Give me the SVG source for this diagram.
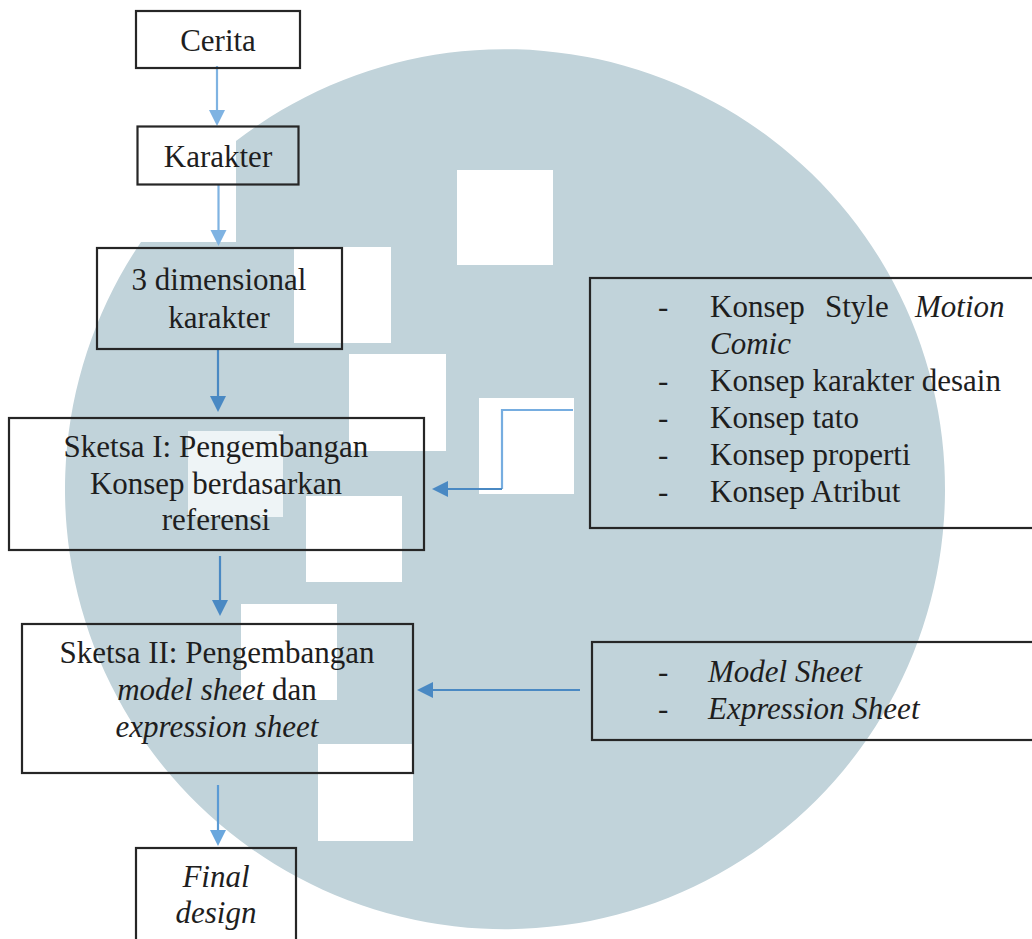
<svg xmlns="http://www.w3.org/2000/svg" width="1032" height="939" viewBox="0 0 1032 939">
<defs>
<style>
.box{fill:none;stroke:#262626;stroke-width:2.2}
.t{font-family:"Liberation Serif","Times New Roman",serif;font-size:31px;fill:#1e1e1e}
.c{text-anchor:middle}
.i{font-style:italic}
.sq{fill:#ffffff}
.lnL{fill:none;stroke:#7fb3e2;stroke-width:2.2}
.lnD{fill:none;stroke:#4a89c3;stroke-width:2.2}
</style>
<marker id="aL" viewBox="0 0 10 10" refX="10" refY="5" markerWidth="8" markerHeight="8" markerUnits="userSpaceOnUse" orient="auto">
<path d="M0,0 L10,5 L0,10 Z" fill="#7fb3e2"/>
</marker>
<marker id="aD" viewBox="0 0 10 10" refX="10" refY="5" markerWidth="8" markerHeight="8" markerUnits="userSpaceOnUse" orient="auto">
<path d="M0,0 L10,5 L0,10 Z" fill="#4a89c3"/>
</marker>
</defs>
<rect width="1032" height="939" fill="#ffffff"/>
<g id="watermark">
<path d="M236 141 A440 440 0 1 1 141 242 L236 242 Z" fill="#c1d3da"/>
<rect class="sq" x="457" y="170" width="96" height="95"/>
<rect class="sq" x="294" y="247" width="97" height="96"/>
<rect class="sq" x="349" y="354" width="97" height="97"/>
<rect class="sq" x="479" y="398" width="95" height="96"/>
<rect class="sq" x="188" y="431" width="95" height="86" fill="#edf3f5" style="fill:#eef4f6"/>
<rect class="sq" x="306" y="496" width="96" height="86"/>
<rect class="sq" x="241" y="604" width="96" height="96"/>
<rect class="sq" x="318" y="744" width="95" height="97"/>
</g>
<g id="connectors">
<path class="lnL" d="M217 66 V118" style="stroke-width:2.2"/>
<path d="M209 110 L225 110 L217 126 Z" fill="#7fb3e2"/>
<path class="lnL" d="M218.5 185 V238"/>
<path d="M210.5 230 L226.5 230 L218.5 246 Z" fill="#7fb3e2"/>
<path class="lnD" d="M218 350 V404"/>
<path d="M210 396 L226 396 L218 412 Z" fill="#4a89c3"/>
<path class="lnD" d="M220 556 V608"/>
<path d="M212 600 L228 600 L220 616 Z" fill="#4a89c3"/>
<path class="lnD" d="M218 785 V838" style="stroke:#5b9bd5"/>
<path d="M210 830 L226 830 L218 846 Z" fill="#6aa7dd"/>
<path class="lnL" d="M573 410 H502 V489" style="stroke:#76ade0"/>
<path class="lnD" d="M502 489 H440"/>
<path d="M448 481 L448 497 L432 489 Z" fill="#4a89c3"/>
<path class="lnD" d="M580 690 H425"/>
<path d="M433 682 L433 698 L417 690 Z" fill="#4a89c3"/>
</g>
<g id="node-cerita">
<rect class="box" x="136" y="11" width="164" height="57"/>
<text class="t c" x="218" y="51">Cerita</text>
</g>
<g id="node-karakter">
<rect class="box" x="137.5" y="126.5" width="161" height="58"/>
<text class="t c" x="218" y="167">Karakter</text>
</g>
<g id="node-3d">
<rect class="box" x="97" y="248" width="245" height="101"/>
<text class="t c" x="219" y="290">3 dimensional</text>
<text class="t c" x="219" y="328">karakter</text>
</g>
<g id="node-sketsa1">
<rect class="box" x="9" y="418" width="415" height="132"/>
<text class="t c" x="216" y="457">Sketsa I: Pengembangan</text>
<text class="t c" x="216" y="494">Konsep berdasarkan</text>
<text class="t c" x="216" y="530">referensi</text>
</g>
<g id="node-sketsa2">
<rect class="box" x="22" y="624" width="391" height="149"/>
<text class="t c" x="217" y="663">Sketsa II: Pengembangan</text>
<text class="t c" x="217" y="700"><tspan class="i">model sheet</tspan> dan</text>
<text class="t c i" x="217" y="737">expression sheet</text>
</g>
<g id="node-final">
<rect class="box" x="136" y="848" width="160" height="100"/>
<text class="t c i" x="216" y="887">Final</text>
<text class="t c i" x="216" y="923">design</text>
</g>
<g id="node-konsep">
<rect class="box" x="590" y="278" width="450" height="250"/>
<text class="t" x="658" y="317">-</text>
<text class="t" x="710" y="317">Konsep</text>
<text class="t" x="825" y="317">Style</text>
<text class="t i" x="915" y="317">Motion</text>
<text class="t i" x="710" y="354">Comic</text>
<text class="t" x="658" y="391">-</text>
<text class="t" x="710" y="391">Konsep karakter desain</text>
<text class="t" x="658" y="428">-</text>
<text class="t" x="710" y="428">Konsep tato</text>
<text class="t" x="658" y="465">-</text>
<text class="t" x="710" y="465">Konsep properti</text>
<text class="t" x="658" y="502">-</text>
<text class="t" x="710" y="502">Konsep Atribut</text>
</g>
<g id="node-sheet">
<rect class="box" x="592" y="642" width="448" height="98"/>
<text class="t" x="658" y="682">-</text>
<text class="t i" x="708" y="682">Model Sheet</text>
<text class="t" x="658" y="719">-</text>
<text class="t i" x="708" y="719">Expression Sheet</text>
</g>
</svg>
